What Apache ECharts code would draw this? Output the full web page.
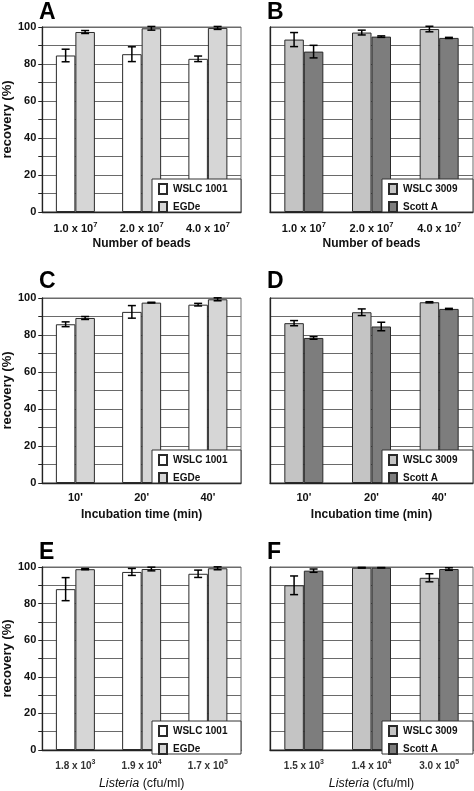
<!DOCTYPE html>
<html>
<head>
<meta charset="utf-8">
<script src="https://cdn.jsdelivr.net/npm/echarts@6/dist/echarts.min.js"></script>
<style>html,body{margin:0;padding:0;background:#fff}#c{width:474px;height:791px}</style>
</head>
<body>
<div id="c"></div>
<script>
// ---- data ----
const beadLabels = ['1.0 x 10^7', '2.0 x 10^7', '4.0 x 10^7'];
const timeLabels = ["10'", "20'", "40'"];
const concLabelsE = ['1.8 x 10^3', '1.9 x 10^4', '1.7 x 10^5'];
const concLabelsF = ['1.5 x 10^3', '1.4 x 10^4', '3.0 x 10^5'];
const yTickLabels = ['0', '20', '40', '60', '80', '100'];

const wslc1001Beads = [84.6, 85.3, 82.8];
const wslc1001BeadsErr = [3.4, 4.0, 1.5];
const egdeBeads = [97.3, 99.3, 99.5];
const egdeBeadsErr = [0.8, 1.0, 0.8];

const wslc3009Beads = [93.2, 97.0, 98.9];
const wslc3009BeadsErr = [3.8, 1.3, 1.5];
const scottBeads = [86.7, 94.8, 94.1];
const scottBeadsErr = [3.4, 0.4, 0.3];

const wslc1001Time = [85.8, 92.5, 96.4];
const wslc1001TimeErr = [1.3, 3.4, 0.7];
const egdeTime = [89.2, 97.5, 99.3];
const egdeTimeErr = [0.8, 0.2, 0.8];

const wslc3009Time = [86.4, 92.3, 97.7];
const wslc3009TimeErr = [1.4, 1.8, 0.3];
const scottTime = [78.4, 84.6, 94.1];
const scottTimeErr = [0.7, 2.3, 0.3];

const wslc1001Conc = [87.9, 97.3, 96.3];
const wslc1001ConcErr = [6.3, 1.9, 2.0];
const egdeConc = [98.8, 98.9, 99.3];
const egdeConcErr = [0.3, 1.0, 0.8];

const wslc3009Conc = [90.0, 99.6, 94.1];
const wslc3009ConcErr = [5.1, 0.2, 2.2];
const scottConc = [98.0, 99.6, 98.9];
const scottConcErr = [0.9, 0.1, 0.7];

// ---- style ----
const FONT = "'Liberation Sans', Arial, sans-serif";
const C_WHITE = '#ffffff', C_EGDE = '#d6d6d6', C_3009 = '#c4c4c4', C_SCOTT = '#7d7d7d';
const GRID_C = '#6a6a6a', AXIS_C = '#222';
const BARW = 19.5;

const rows = [{top: 27, bottom: 212, title: 1}, {top: 298, bottom: 483, title: 270}, {top: 567, bottom: 754, title: 541}];
const cols = [{left: 42, right: 241}, {left: 270, right: 473}];

const panels = [
  {letter: 'A', r: 0, c: 0, cats: beadLabels, name: 'Number of beads', kind: 0,
   s: [['WSLC 1001', wslc1001Beads, wslc1001BeadsErr, C_WHITE], ['EGDe', egdeBeads, egdeBeadsErr, C_EGDE]]},
  {letter: 'B', r: 0, c: 1, cats: beadLabels, name: 'Number of beads', kind: 0,
   s: [['WSLC 3009', wslc3009Beads, wslc3009BeadsErr, C_3009], ['Scott A', scottBeads, scottBeadsErr, C_SCOTT]]},
  {letter: 'C', r: 1, c: 0, cats: timeLabels, name: 'Incubation time (min)', kind: 0,
   s: [['WSLC 1001', wslc1001Time, wslc1001TimeErr, C_WHITE], ['EGDe', egdeTime, egdeTimeErr, C_EGDE]]},
  {letter: 'D', r: 1, c: 1, cats: timeLabels, name: 'Incubation time (min)', kind: 0,
   s: [['WSLC 3009', wslc3009Time, wslc3009TimeErr, C_3009], ['Scott A', scottTime, scottTimeErr, C_SCOTT]]},
  {letter: 'E', r: 2, c: 0, cats: concLabelsE, name: '{i|Listeria} (cfu/ml)', kind: 1,
   s: [['WSLC 1001', wslc1001Conc, wslc1001ConcErr, C_WHITE], ['EGDe', egdeConc, egdeConcErr, C_EGDE]]},
  {letter: 'F', r: 2, c: 1, cats: concLabelsF, name: '{i|Listeria} (cfu/ml)', kind: 1,
   s: [['WSLC 3009', wslc3009Conc, wslc3009ConcErr, C_3009], ['Scott A', scottConc, scottConcErr, C_SCOTT]]}
];

const option = {
  animation: false,
  backgroundColor: '#fff',
  textStyle: {fontFamily: FONT},
  title: [], grid: [], xAxis: [], yAxis: [], series: [], legend: [], graphic: []
};

function errRender(side) {
  return function (params, api) {
    const x = api.value(0), y = api.value(1), e = api.value(2);
    const p = api.coord([x, y]);
    const hi = api.coord([x, y + e]);
    const lo = api.coord([x, y - e]);
    const cx = p[0] + side * BARW / 2;
    const hw = 4;
    const st = {stroke: '#000', lineWidth: 1.5};
    return {type: 'group', children: [
      {type: 'line', shape: {x1: cx, y1: hi[1], x2: cx, y2: lo[1]}, style: st},
      {type: 'line', shape: {x1: cx - hw, y1: hi[1], x2: cx + hw, y2: hi[1]}, style: st},
      {type: 'line', shape: {x1: cx - hw, y1: lo[1], x2: cx + hw, y2: lo[1]}, style: st}
    ]};
  };
}

panels.forEach((p, i) => {
  const R = rows[p.r], Cc = cols[p.c];
  const left = p.c === 0;
  option.title.push({text: p.letter, left: Cc.left - 3, top: R.title, padding: 0,
    textStyle: {fontSize: 23, fontWeight: 'bold', color: '#000', fontFamily: FONT}});
  option.grid.push({left: Cc.left, top: R.top, width: Cc.right - Cc.left, height: R.bottom - R.top,
    show: true, borderColor: GRID_C, borderWidth: 1, containLabel: false});
  const small = p.kind === 1;
  option.xAxis.push({
    type: 'category', gridIndex: i, data: p.cats,
    axisLine: {show: true, lineStyle: {color: AXIS_C, width: 1.3}},
    axisTick: {show: false},
    axisLabel: {
      interval: 0, hideOverlap: false,
      margin: small ? 9 : 9, fontSize: small ? 10 : 11, fontWeight: 'bold', color: small ? '#333' : '#111', fontFamily: FONT,
      formatter: v => v.replace(/\^(\d+)/, '{sup|$1}'),
      rich: {sup: {fontSize: small ? 7 : 7.5, fontWeight: 'bold', color: small ? '#333' : '#111', padding: [0, 0, 7, 0], fontFamily: FONT}}
    },
    name: p.name, nameLocation: 'middle', nameGap: small ? 27 : 26,
    nameTextStyle: small
      ? {fontSize: 12.5, fontWeight: 'normal', color: '#111', fontFamily: FONT, rich: {i: {fontStyle: 'italic', fontSize: 12.5, color: '#111', fontFamily: FONT}}}
      : {fontSize: 12, fontWeight: 'bold', color: '#111', fontFamily: FONT}
  });
  option.yAxis.push({
    type: 'value', gridIndex: i, min: 0, max: 100, interval: 10,
    axisLine: {show: true, lineStyle: {color: AXIS_C, width: 1.3}},
    axisTick: {show: left, length: 4, lineStyle: {color: AXIS_C}},
    axisLabel: {show: left, fontSize: 11, fontWeight: 'bold', color: '#111', margin: 6, fontFamily: FONT,
      formatter: v => (yTickLabels.indexOf(String(v)) >= 0 ? String(v) : '')},
    splitLine: {show: true, lineStyle: {color: GRID_C, width: 1}},
    name: left ? 'recovery (%)' : '', nameLocation: 'middle', nameGap: 28,
    nameTextStyle: {fontSize: 13, fontWeight: 'bold', color: '#111', fontFamily: FONT}
  });
  p.s.forEach((s) => {
    option.series.push({
      type: 'bar', name: s[0], xAxisIndex: i, yAxisIndex: i, data: s[1],
      barWidth: BARW, barGap: '0%',
      itemStyle: {color: s[3], borderColor: '#2a2a2a', borderWidth: 1},
      z: 2
    });
  });
  p.s.forEach((s, k) => {
    option.series.push({
      type: 'custom', xAxisIndex: i, yAxisIndex: i,
      data: s[1].map((v, j) => [j, v, s[2][j]]),
      renderItem: errRender(k === 0 ? -1 : 1), z: 3, silent: true
    });
  });
  const boxW = left ? 89 : 91;
  const boxTop = R.bottom - 33;
  option.graphic.push({type: 'rect', z: 5, silent: true,
    shape: {x: Cc.right - boxW, y: boxTop, width: boxW, height: R.bottom - boxTop},
    style: {fill: '#fff', stroke: '#333', lineWidth: 1}});
  option.legend.push({
    data: [p.s[0][0], p.s[1][0]], left: Cc.right - boxW + 6, top: boxTop + 4,
    orient: 'vertical', itemWidth: 8, itemHeight: 10, itemGap: 6, padding: 0,
    icon: 'rect', selectedMode: false, z: 10,
    textStyle: {fontSize: 10, fontWeight: 'bold', color: '#111', fontFamily: FONT, padding: [0, 0, 0, 1]}
  });
});

const chart = echarts.init(document.getElementById('c'), null, {renderer: 'canvas'});
chart.setOption(option);
</script>
</body>
</html>
